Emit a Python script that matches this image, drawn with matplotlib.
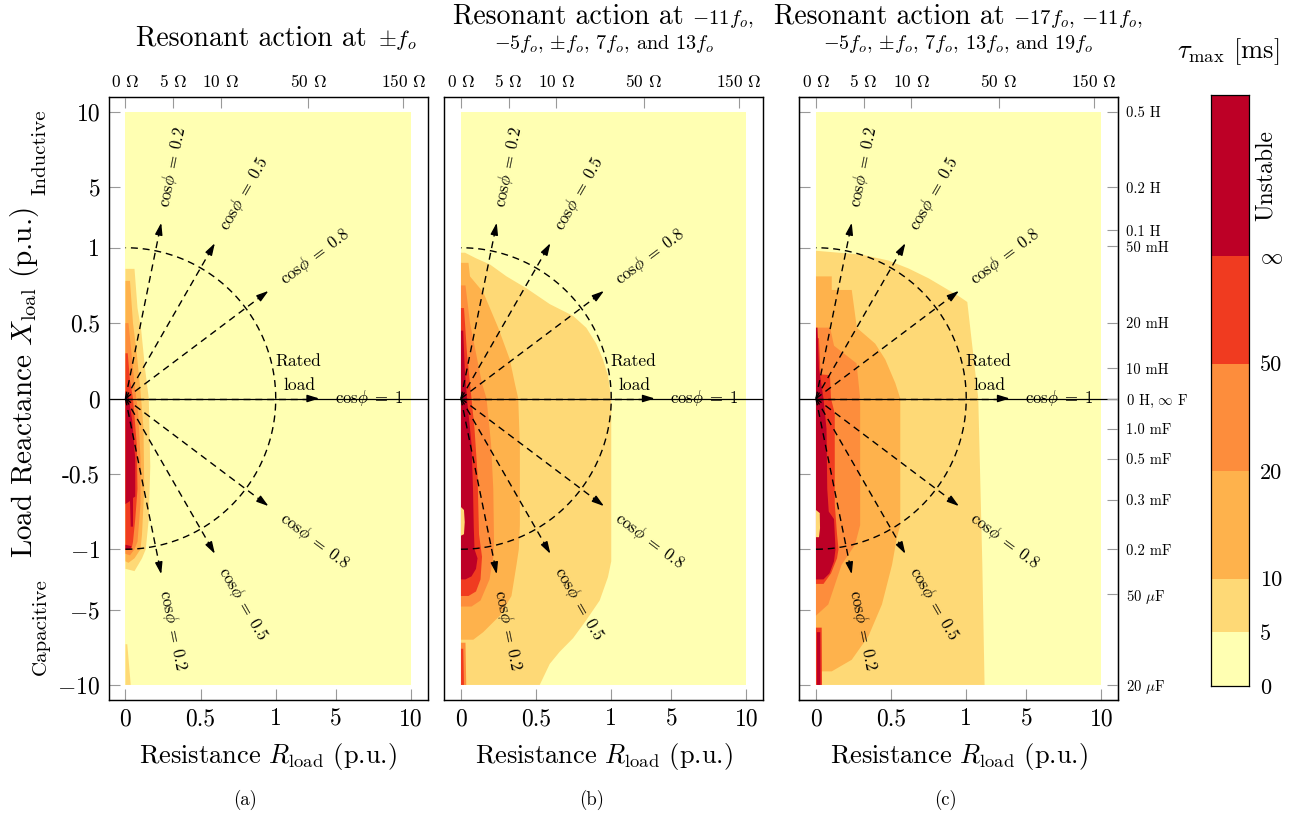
import numpy as np
import matplotlib
matplotlib.use('Agg')
import matplotlib.pyplot as plt

plt.rcParams['font.family'] = ['cmr10', 'DejaVu Serif']
plt.rcParams['mathtext.fontset'] = 'cm'
plt.rcParams['axes.unicode_minus'] = False
plt.rcParams['axes.formatter.use_mathtext'] = True

W, H = 1296, 814

# colour levels of tau_max: 0-5, 5-10, 10-20, 20-50, 50-inf, unstable
LEVEL_COLORS = ['#ffffb2', '#fed976', '#feb24c', '#fd8d3c', '#f03b20', '#bd0026']
CBAR_LABELS = ['0', '5', '10', '20', '50', r'$\infty$']

X_TICKS = [0, 0.5, 1, 5, 10]
X_TICKLABELS = ['0', '0.5', '1', '5', '10']
Y_TICKS = [10, 5, 1, 0.5, 0, -0.5, -1, -5, -10]
Y_TICKLABELS = ['10', '5', '1', '0.5', '0', '-0.5', r'$-1$', r'$-5$', r'$-10$']

ZBASE = 15.8
OHM_TICKS = [0, 5, 10, 50, 150]
RIGHT_LABELS = ['0.5 H', '0.2 H', '0.1 H', '50 mH', '20 mH', '10 mH', r'0 H, $\infty$ F',
                '1.0 mF', '0.5 mF', '0.3 mF', '0.2 mF', r'50 $\mu$F', r'20 $\mu$F']
RIGHT_X = [10.0, 5.0, 2.15, 1.1, 0.5, 0.2, 0, -0.2, -0.4, -0.67, -1.0, -4.0, -10.0]

COS_PHI = [0.2, 0.5, 0.8, 1.0]

# regions where tau_max exceeds each level, (level index, [(R, X), ...]) painted in order
panel_a_regions = [
    (1, [(0, 0.86), (0.06, 0.86), (0.08, 0.6), (0.105, 0.45), (0.13, 0.2), (0.155, 0.0), (0.165, -0.45),
         (0.155, -0.8), (0.135, -1.0), (0.11, -1.6), (0.06, -2.45), (0, -2.3)]),
    (1, [(0, -7.3), (0.012, -7.3), (0.035, -10), (0, -10)]),
    (2, [(0, 0.78), (0.03, 0.78), (0.05, 0.5), (0.075, 0.3), (0.1, 0.05), (0.12, -0.2), (0.125, -0.6),
         (0.11, -0.9), (0.1, -1.0), (0.06, -1.6), (0.02, -1.9), (0, -1.8)]),
    (3, [(0, 0.5), (0.02, 0.5), (0.04, 0.3), (0.06, 0.1), (0.085, -0.1), (0.1, -0.4), (0.1, -0.7),
         (0.08, -0.95), (0.06, -1.0), (0.03, -1.4), (0, -1.3)]),
    (4, [(0, 0.3), (0.015, 0.3), (0.03, 0.12), (0.05, 0.0), (0.075, -0.3), (0.08, -0.6), (0.065, -0.8),
         (0.05, -0.95), (0.04, -1.02), (0, -1.05)]),
    (5, [(0, 0.05), (0.02, 0.02), (0.045, -0.15), (0.065, -0.4), (0.065, -0.65), (0.05, -0.66),
         (0.05, -0.85), (0.035, -0.85), (0.03, -0.68), (0, -0.7)]),
    (5, [(0, -0.97), (0.04, -0.98), (0.03, -1.02), (0, -1.03)]),
]

panel_b_regions = [
    (1, [(0, 0.967), (0.027, 0.967), (0.1, 0.93), (0.193, 0.889), (0.303, 0.81), (0.436, 0.731),
         (0.591, 0.626), (0.746, 0.548), (0.834, 0.469), (0.9, 0.364), (0.945, 0.259), (0.978, 0.154),
         (1.0, 0.0), (1.0, -1.8), (0.978, -2.85), (0.923, -4.4), (0.834, -5.7), (0.746, -6.9),
         (0.657, -7.8), (0.591, -8.6), (0.524, -10), (0, -10)]),
    (2, [(0, 0.9), (0.05, 0.9), (0.06, 0.81), (0.148, 0.705), (0.248, 0.469), (0.325, 0.259),
         (0.358, 0.102), (0.381, 0.0), (0.392, -0.317), (0.392, -0.841), (0.385, -1.0), (0.37, -2.0),
         (0.336, -4.1), (0.259, -5.4), (0.148, -6.5), (0.082, -7.0), (0, -7.0)]),
    (3, [(0, 0.75), (0.03, 0.75), (0.06, 0.5), (0.1, 0.3), (0.14, 0.1), (0.17, 0.0), (0.2, -0.3),
         (0.215, -0.6), (0.22, -0.95), (0.215, -1.5), (0.19, -3.0), (0.13, -4.4), (0.07, -4.8), (0, -4.8)]),
    (3, [(0, -7.2), (0.03, -7.2), (0.035, -10), (0, -10)]),
    (4, [(0, 0.6), (0.02, 0.6), (0.04, 0.3), (0.06, 0.1), (0.09, -0.2), (0.11, -0.5), (0.12, -0.9),
         (0.14, -1.5), (0.13, -3.0), (0.1, -3.8), (0.05, -4.1), (0, -4.1)]),
    (4, [(0, -7.6), (0.015, -7.6), (0.02, -10), (0, -10)]),
    (5, [(0, 0.45), (0.015, 0.45), (0.025, 0.2), (0.04, 0.0), (0.07, -0.3), (0.08, -0.6), (0.085, -0.85),
         (0.09, -1.0), (0.11, -1.6), (0.1, -2.3), (0.07, -2.8), (0.03, -3.0), (0, -3.0)]),
    (1, [(0, -0.72), (0.02, -0.74), (0.025, -0.82), (0.02, -0.9), (0, -0.91)]),
]

panel_c_regions = [
    (1, [(0, 0.98), (0.305, 0.954), (0.483, 0.915), (0.617, 0.862), (0.75, 0.797), (0.862, 0.731),
         (0.95, 0.679), (1.07, 0.64), (1.8, 0.0), (2.07, -2.0), (2.22, -10), (0, -10)]),
    (2, [(0, 0.81), (0.105, 0.81), (0.105, 0.72), (0.238, 0.72), (0.272, 0.469), (0.394, 0.364),
         (0.461, 0.259), (0.528, 0.102), (0.561, 0.0), (0.561, -0.841), (0.539, -0.92), (0.506, -2.04),
         (0.439, -4.66), (0.35, -6.75), (0.238, -8.33), (0.105, -9.1), (0, -9.1)]),
    (3, [(0, 0.47), (0.094, 0.47), (0.12, 0.35), (0.27, 0.233), (0.294, 0.0), (0.294, -0.84),
         (0.26, -0.97), (0.17, -2.04), (0.082, -4.66), (0, -5.4)]),
    (4, [(0, 0.4), (0.02, 0.4), (0.03, 0.16), (0.093, 0.155), (0.1, 0.0), (0.125, -0.1), (0.125, -0.7),
         (0.14, -0.9), (0.15, -1.0), (0.14, -1.6), (0.1, -2.6), (0.05, -3.3), (0, -3.3)]),
    (4, [(0, -6.2), (0.038, -6.2), (0.04, -10), (0, -10)]),
    (5, [(0, 0.47), (0.01, 0.47), (0.02, 0.2), (0.05, 0.0), (0.07, -0.2), (0.075, -0.6), (0.085, -0.75),
         (0.12, -0.8), (0.13, -1.0), (0.12, -1.8), (0.09, -2.6), (0.05, -3.0), (0, -3.0)]),
    (5, [(0.006, -6.5), (0.028, -6.5), (0.03, -10), (0.006, -10)]),
    (1, [(0, -0.74), (0.025, -0.76), (0.027, -0.86), (0.02, -0.92), (0, -0.92)]),
]


def fwd(x):
    x = np.asarray(x, dtype=float)
    a = np.abs(x)
    return np.where(a <= 1, x, np.sign(x) * (1 + 0.1 * (a - 1)))


def inv(v):
    v = np.asarray(v, dtype=float)
    a = np.abs(v)
    return np.where(a <= 1, v, np.sign(v) * (1 + (a - 1) / 0.1))


X_LIM = (-0.113, float(inv(2.01)))
Y_LIM = (float(inv(-2.0)), float(inv(2.0)))

fig = plt.figure(figsize=(W / 100, H / 100), dpi=100)


def px_axes(x, y, w, h):
    return fig.add_axes([x / W, 1 - (y + h) / H, w / W, h / H])


TICK = dict(direction='in', length=8, width=0.8, color='0.6')


def draw_panel(ax, regions):
    ax.set_xscale('function', functions=(fwd, inv))
    ax.set_yscale('function', functions=(fwd, inv))
    ax.set_xlim(X_LIM)
    ax.set_ylim(Y_LIM)
    ax.fill([0, 10, 10, 0], [-10, -10, 10, 10], color=LEVEL_COLORS[0], lw=0, zorder=1)
    for level, poly in regions:
        r, x = zip(*poly)
        ax.fill(r, x, color=LEVEL_COLORS[level], lw=0, zorder=1)
    ax.axhline(0, color='black', lw=0.9, zorder=2)

    dash = (0, (5, 3.5))
    t = np.linspace(-np.pi / 2, np.pi / 2, 181)
    ax.plot(np.cos(t), np.sin(t), color='black', lw=1.0, ls=dash, zorder=3)

    for c in COS_PHI:
        for s in ((1,) if c == 1 else (1, -1)):
            phi = s * np.arccos(c)
            L = 1.29 if c == 1 else 1.19
            cu, sv = np.cos(phi), np.sin(phi)
            ax.plot(inv([0, (L - 0.05) * cu]), inv([0, (L - 0.05) * sv]),
                    color='black', lw=1.0, ls=dash, zorder=3)
            ax.annotate('', xy=(inv(L * cu), inv(L * sv)),
                        xytext=(inv((L - 0.065) * cu), inv((L - 0.065) * sv)),
                        arrowprops=dict(arrowstyle='-|>,head_length=0.55,head_width=0.17',
                                        color='black', lw=1.0, shrinkA=0, shrinkB=0,
                                        mutation_scale=13), zorder=4)
            D = 1.62 if c == 1 else 1.57
            ax.text(inv(D * cu), inv(D * sv), rf'$\mathrm{{cos}}\phi\;=\;{c:g}$',
                    rotation=np.degrees(phi), rotation_mode='anchor',
                    ha='center', va='center', fontsize=12, zorder=4)

    ax.text(inv(1.15), 0.246, 'Rated', ha='center', va='center', fontsize=12.5, zorder=4)
    ax.text(inv(1.155), 0.089, 'load', ha='center', va='center', fontsize=12.5, zorder=4)

    ax.set_xticks(X_TICKS)
    ax.set_xticklabels(X_TICKLABELS)
    ax.set_yticks(Y_TICKS)
    ax.set_yticklabels(Y_TICKLABELS)
    ax.tick_params(axis='both', labelsize=17, pad=6, **TICK)
    ax.tick_params(axis='x', top=False)
    ax.minorticks_off()
    for sp in ax.spines.values():
        sp.set_linewidth(1.0)
        sp.set_color('0.15')

    top = ax.twiny()
    top.set_xscale('function', functions=(fwd, inv))
    top.set_xlim(X_LIM)
    top.set_xticks(np.array(OHM_TICKS) / ZBASE)
    top.set_xticklabels([rf'{o} $\Omega$' for o in OHM_TICKS])
    top.tick_params(axis='x', labelsize=12.5, pad=5, **TICK)
    top.minorticks_off()
    return top


panel_x = [108.5, 444, 799]
axes = []
for x0, regions in zip(panel_x, [panel_a_regions, panel_b_regions, panel_c_regions]):
    ax = px_axes(x0, 97, 319, 603)
    draw_panel(ax, regions)
    axes.append(ax)

for ax in axes[1:]:
    ax.tick_params(axis='y', left=False, labelleft=False)

right = axes[2].twinx()
right.set_yscale('function', functions=(fwd, inv))
right.set_ylim(Y_LIM)
right.set_yticks(RIGHT_X)
right.set_yticklabels(RIGHT_LABELS)
right.tick_params(axis='y', labelsize=10.5, pad=6, **TICK)
right.minorticks_off()

# labels
centers = [268, 603.5, 958.5]
for cx in centers:
    fig.text(cx / W, 1 - 757 / H, r'Resistance $R_{\rm load}$ (p.u.)', ha='center', va='center', fontsize=19)
for cx, tag in zip([245, 592, 945], ['(a)', '(b)', '(c)']):
    fig.text(cx / W, 1 - 800 / H, tag, ha='center', va='center', fontsize=13.5)

fig.text(25 / W, 1 - 383 / H, r'Load Reactance $X_{\rm loal}$ (p.u.)', rotation=90,
         ha='center', va='center', fontsize=21)
fig.text(41 / W, 1 - 152 / H, 'Inductive', rotation=90, ha='center', va='center', fontsize=15)
fig.text(41 / W, 1 - 627 / H, 'Capacitive', rotation=90, ha='center', va='center', fontsize=15)

renderer = fig.canvas.get_renderer()


def mixed_line(cx, y, big, small, small_size=15, gap=9):
    t1 = fig.text(0, 1 - y / H, big, fontsize=20, ha='left', va='baseline')
    t2 = fig.text(0, 1 - y / H, small, fontsize=small_size, ha='left', va='baseline')
    w1 = t1.get_window_extent(renderer).width
    w2 = t2.get_window_extent(renderer).width
    x0 = cx - (w1 + gap + w2) / 2
    t1.set_x(x0 / W)
    t2.set_x((x0 + w1 + gap) / W)


mixed_line(276, 46, 'Resonant action at', r'$\pm f_o$', small_size=16.5, gap=11)
mixed_line(603.5, 24, 'Resonant action at', r'$-11f_o$,')
fig.text(603.5 / W, 1 - 49 / H, r'$-5f_o$, $\pm f_o$, $7f_o$, and $13f_o$', fontsize=14.5,
         ha='center', va='baseline')
mixed_line(958.5, 24, 'Resonant action at', r'$-17f_o$, $-11f_o$,')
fig.text(958.5 / W, 1 - 49 / H, r'$-5f_o$, $\pm f_o$, $7f_o$, $13f_o$, and $19f_o$', fontsize=14.5,
         ha='center', va='baseline')

# colour bar
cbar_edges = [0, 1, 2, 4, 6, 8, 11]
cax = px_axes(1211, 95, 38, 591)
for i, col in enumerate(LEVEL_COLORS):
    cax.bar(0, cbar_edges[i + 1] - cbar_edges[i], bottom=cbar_edges[i], width=1, color=col, lw=0)
cax.set_xlim(-0.5, 0.5)
cax.set_ylim(0, 11)
cax.set_xticks([])
cax.set_yticks(cbar_edges[:6])
cax.set_yticklabels(CBAR_LABELS)
cax.tick_params(axis='y', left=False, labelleft=False, right=True, labelright=True,
                length=0, labelsize=16, pad=8)
for sp in cax.spines.values():
    sp.set_linewidth(0.9)
cax.text(1.45, (cbar_edges[5] + cbar_edges[6]) / 2, 'Unstable', rotation=90,
         ha='center', va='center', fontsize=17, transform=cax.get_yaxis_transform())
fig.text(1228 / W, 1 - 52 / H, r'$\tau_{\max}$ [ms]', ha='center', va='center', fontsize=19)

fig.savefig('out.png', dpi=100)
